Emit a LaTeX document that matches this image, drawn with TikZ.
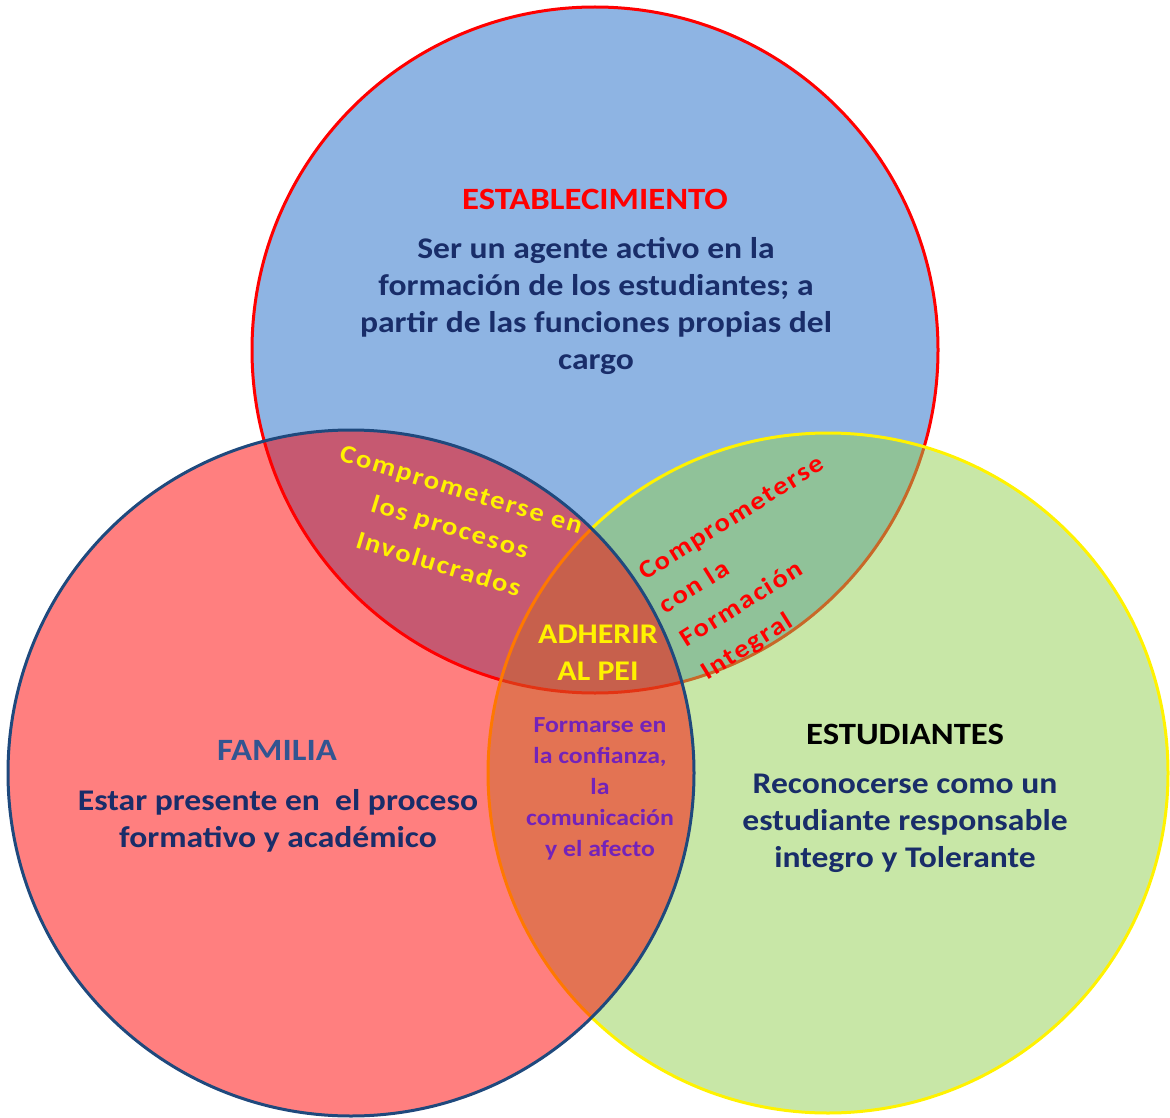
\documentclass[tikz,border=0pt]{standalone}
\usepackage{fontspec}
\setmainfont{Carlito}[FakeStretch=1.12]
\newfontfamily\spacedfont{Carlito}[FakeStretch=1.12, LetterSpace=7]
\definecolor{estblue}{RGB}{142,180,227}
\definecolor{estgreen}{RGB}{146,208,80}
\definecolor{famnavy}{RGB}{31,73,125}
\definecolor{textnavy}{RGB}{25,45,105}
\definecolor{headblue}{RGB}{50,85,145}
\definecolor{lila}{RGB}{115,35,185}

\tikzset{
  ring/.style={line width=3pt},
  head/.style={font=\bfseries\fontsize{31}{34}\selectfont, inner sep=0pt},
  body/.style={font=\bfseries\fontsize{30}{37}\selectfont, text=textnavy, align=center, inner sep=0pt},
  lens/.style={font=\spacedfont\bfseries\fontsize{25.5}{39}\selectfont, inner sep=0pt},
}

\begin{document}
\begin{tikzpicture}[x=1pt,y=-1pt]
         \useasboundingbox (0,0) rectangle (1170,1118);
         % circles: blue below, green, red on top
         \draw[ring, fill=estblue, draw=red] (595,350) circle [radius=343];
         \draw[ring, fill=estgreen, fill opacity=0.5, draw=yellow] (828,773) circle [radius=340];
         \draw[ring, fill=red, fill opacity=0.5, draw=famnavy] (351,773) circle [radius=343];

         \node[head, text=red] (estab) at (595,199) {ESTABLECIMIENTO};
         \node[body] (estabtxt) at (596,306) {Ser un agente activo en la\\formación de los estudiantes; a\\partir de las funciones propias del\\cargo};

         \node[head, text=headblue] (familia) at (277,750) {FAMILIA};
         \node[body] (familiatxt) at (278,821) {Estar presente en\ \ el proceso\\formativo y académico};

         \node[head, text=black] (estud) at (905,734) {ESTUDIANTES};
         \node[body] (estudtxt) at (905,823) {Reconocerse como un\\estudiante responsable\\integro y Tolerante};

         \node[lens, text=yellow, align=center, rotate=-17] (procesos) at (450,527) {Comprometerse en\\los procesos\\Involucrados};
         \node[lens, text=red, align=left, rotate=32] (integral) at (763,569) {Comprometerse\\con la\\Formación\\Integral};

         \node[font=\bfseries\fontsize{28.5}{37}\selectfont, text=yellow, align=center, inner sep=0pt] (pei) at (598,653) {ADHERIR\\AL PEI};
         \node[font=\bfseries\fontsize{23}{31}\selectfont, text=lila, align=center, inner sep=0pt] (afecto) at (600,789) {Formarse en\\la confianza,\\la\\comunicación\\y el afecto};
      \end{tikzpicture}
\end{document}
